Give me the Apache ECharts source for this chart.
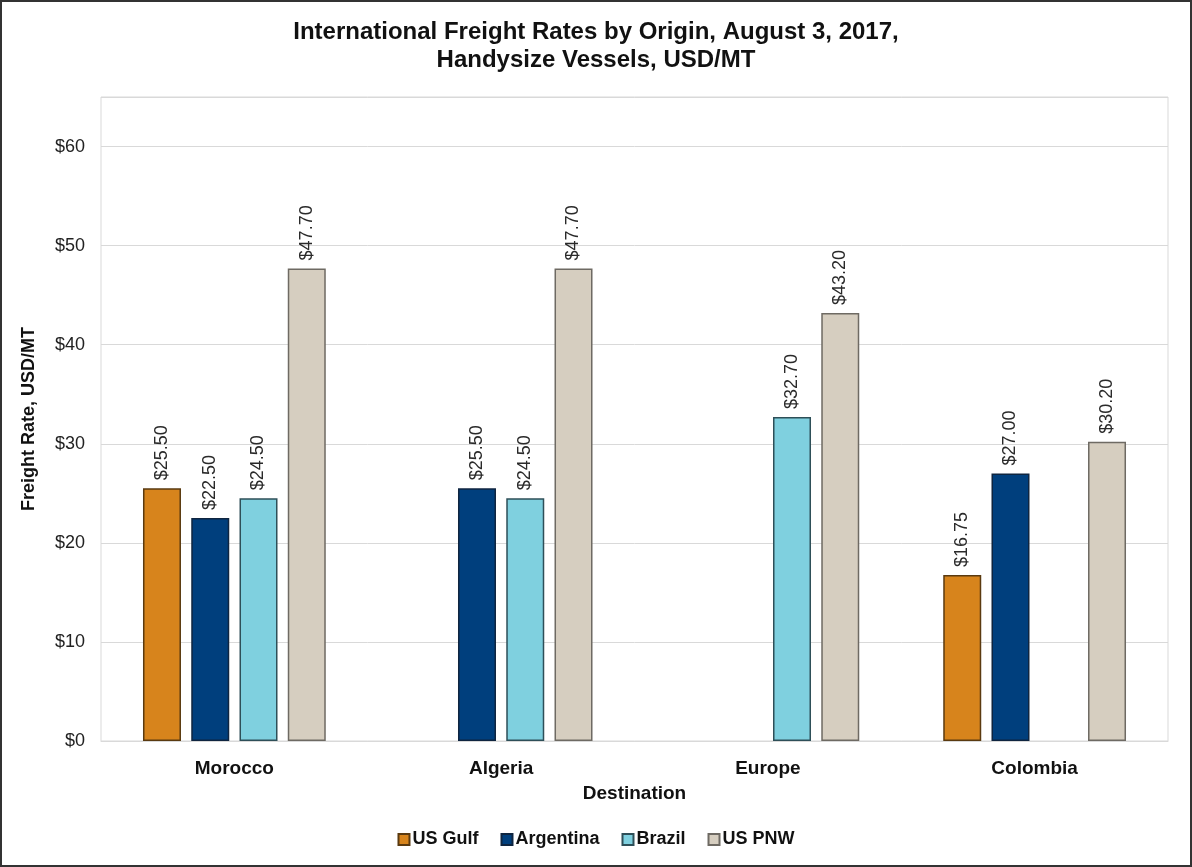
<!DOCTYPE html>
<html>
<head>
  <title>International Freight Rates by Origin</title>
  <script src="https://cdn.jsdelivr.net/npm/echarts@6.0.0/dist/echarts.min.js"></script>
  <style>
    body { margin: 0; background: #fff; }
    #main { width: 1192px; height: 867px; box-sizing: border-box; border: 2px solid #333; }
  </style>
</head>
<body>
  <div id="main"></div>
  <script>
    // destinations on the x axis
    var destinations = ['Morocco', 'Algeria', 'Europe', 'Colombia'];
    // origins (one series each), null = no quote
    var usGulf    = [25.50, null, null, 16.75];
    var argentina = [22.50, 25.50, null, 27.00];
    var brazil    = [24.50, 24.50, 32.70, null];
    var usPnw     = [47.70, 47.70, 43.20, 30.20];
    var yTicks = [0, 10, 20, 30, 40, 50, 60];

    var font = '"Liberation Sans", Arial, sans-serif';
    var chart = echarts.init(document.getElementById('main'));

    function makeSeries(name, data, color, border) {
      return {
        name: name,
        type: 'bar',
        data: data,
        barWidth: 38,
        barGap: '27%',
        itemStyle: { color: color, borderColor: border, borderWidth: 1.5 },
        label: {
          show: true,
          position: 'top',
          rotate: 90,
          align: 'left',
          verticalAlign: 'middle',
          distance: 8,
          color: '#2a2a2a',
          fontFamily: font,
          fontSize: 18,
          formatter: function (p) { return '$' + p.value.toFixed(2); }
        }
      };
    }

    var option = {
      animation: false,
      textStyle: { fontFamily: font },
      title: {
        text: 'International Freight Rates by Origin, August 3, 2017,\nHandysize Vessels, USD/MT',
        left: 'center',
        top: 11,
        textStyle: { fontSize: 24, fontWeight: 'bold', color: '#111', lineHeight: 28, fontFamily: font }
      },
      legend: {
        bottom: 5,
        left: 'center',
        icon: 'rect',
        itemWidth: 11,
        itemHeight: 11,
        itemGap: 22,
        textStyle: { fontSize: 18, fontWeight: 'bold', color: '#111', fontFamily: font, padding: [0, 0, 0, -2] },
        data: ['US Gulf', 'Argentina', 'Brazil', 'US PNW']
      },
      grid: {
        left: 99, right: 22, top: 95, bottom: 124,
        show: true, borderColor: '#d9d9d9', borderWidth: 1
      },
      xAxis: {
        type: 'category',
        data: destinations,
        name: 'Destination',
        nameLocation: 'middle',
        nameGap: 36,
        nameMoveOverlap: false,
        nameTextStyle: { fontSize: 19, fontWeight: 'bold', color: '#111', fontFamily: font },
        axisLine: { lineStyle: { color: '#d9d9d9' } },
        axisTick: { show: false },
        axisLabel: { fontSize: 19, fontWeight: 'bold', color: '#111', margin: 11, fontFamily: font }
      },
      yAxis: {
        type: 'value',
        min: 0,
        max: 65,
        interval: 10,
        name: 'Freight Rate, USD/MT',
        nameLocation: 'middle',
        nameGap: 52,
        nameTextStyle: { fontSize: 18, fontWeight: 'bold', color: '#111', fontFamily: font },
        axisLine: { show: false },
        axisTick: { show: false },
        splitLine: { lineStyle: { color: '#d9d9d9' } },
        axisLabel: {
          fontSize: 18, color: '#222', margin: 16, fontFamily: font,
          formatter: function (v) { return yTicks.indexOf(v) >= 0 ? '$' + v : ''; }
        }
      },
      series: [
        makeSeries('US Gulf', usGulf, '#d7841c', '#5a3a10'),
        makeSeries('Argentina', argentina, '#003f7d', '#0f2540'),
        makeSeries('Brazil', brazil, '#7fd0df', '#2e4f58'),
        makeSeries('US PNW', usPnw, '#d6cec0', '#6e6a63')
      ]
    };

    chart.setOption(option);
  </script>
</body>
</html>
